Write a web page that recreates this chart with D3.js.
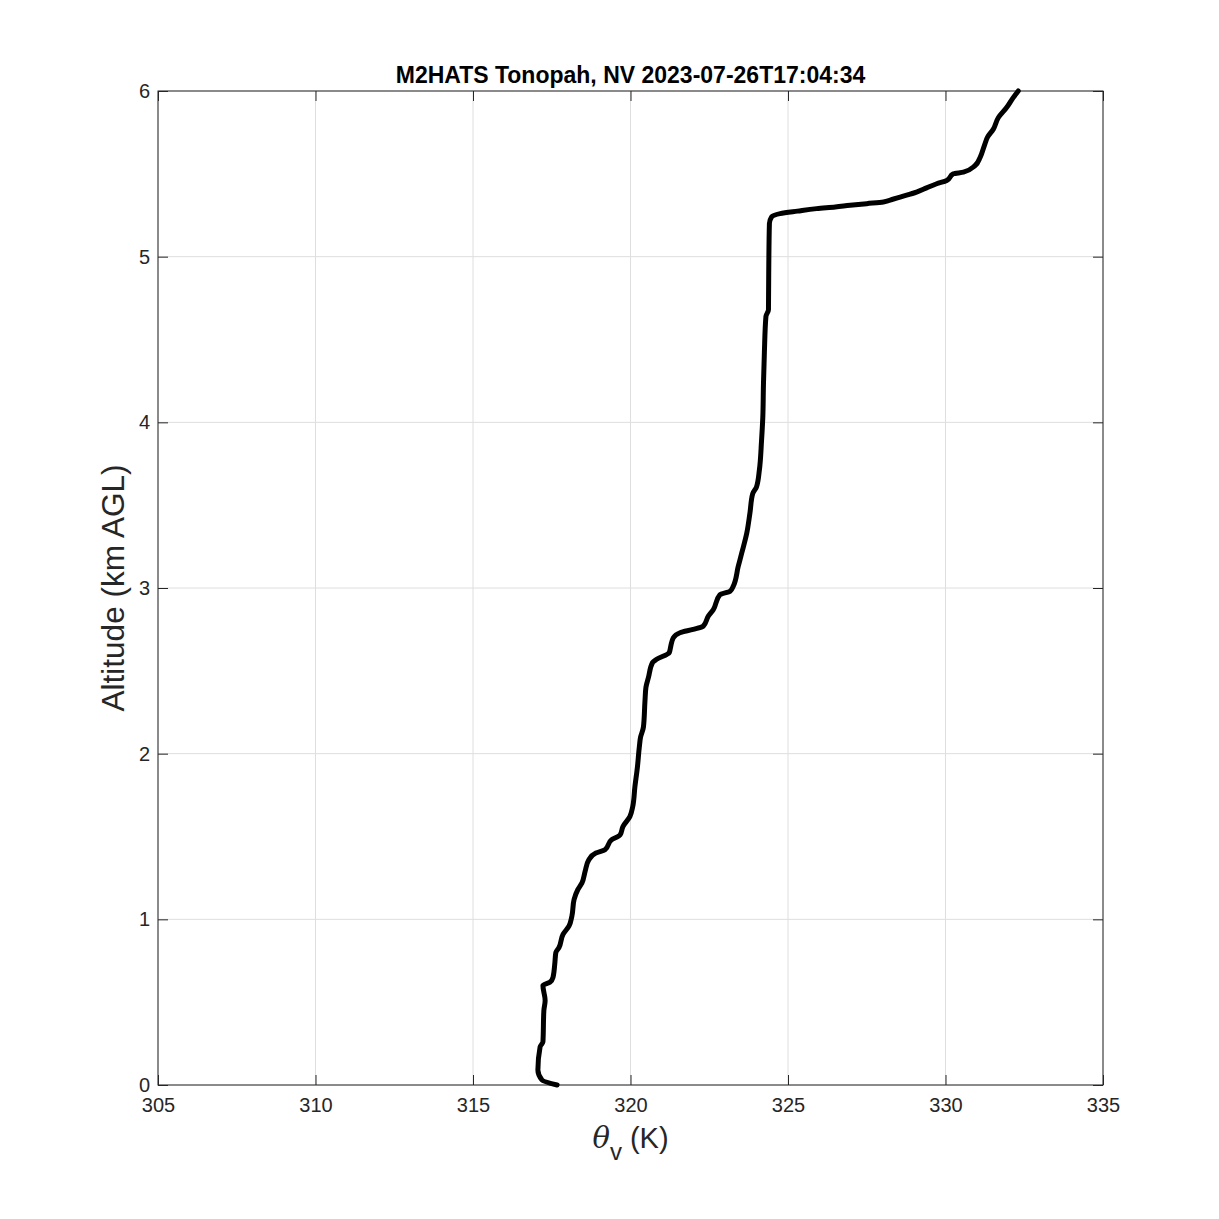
<!DOCTYPE html>
<html>
<head>
<meta charset="utf-8">
<script src="https://cdn.jsdelivr.net/npm/d3@7"></script>
<style>
  body { margin: 0; background: #fff; }
  text { font-family: "Liberation Sans", Arial, Helvetica, sans-serif; }
</style>
</head>
<body>
<div id="chart"></div>
<script>
const thetaV = [317.67, 317.19, 317.06, 317.13, 317.22, 317.25, 317.29, 317.22, 317.44, 317.54,
  317.6, 317.63, 317.73, 317.86, 318.05, 318.14, 318.21, 318.33, 318.46, 318.56,
  318.68, 318.9, 319.19, 319.4, 319.67, 319.76, 319.98, 320.07, 320.14, 320.22,
  320.28, 320.32, 320.41, 320.46, 320.49, 320.57, 320.7, 320.83, 321.23, 321.28,
  321.36, 321.57, 321.99, 322.31, 322.47, 322.63, 322.84, 323.16, 323.26, 323.42,
  323.53, 323.69, 323.79, 323.88, 324.0, 324.09, 324.16, 324.2, 324.22, 324.25,
  324.3, 324.38, 324.39, 324.41, 324.48, 324.75, 325.3, 325.91, 326.5, 326.97,
  327.5, 328.03, 328.3, 328.56, 329.08, 329.4, 329.72, 330.04, 330.25, 330.57,
  330.94, 331.1, 331.25, 331.33, 331.52, 331.68, 331.94, 332.15, 332.31];
const altKm = [0.0, 0.03, 0.09, 0.23, 0.26, 0.45, 0.51, 0.6, 0.62, 0.65,
  0.74, 0.8, 0.83, 0.91, 0.96, 1.02, 1.12, 1.18, 1.22, 1.29,
  1.36, 1.4, 1.42, 1.48, 1.51, 1.56, 1.62, 1.68, 1.8, 1.92,
  2.04, 2.1, 2.16, 2.32, 2.4, 2.46, 2.55, 2.57, 2.61, 2.65,
  2.7, 2.73, 2.75, 2.77, 2.83, 2.87, 2.96, 2.98, 3.01, 3.13,
  3.21, 3.33, 3.45, 3.57, 3.61, 3.71, 3.89, 4.03, 4.22, 4.42,
  4.64, 4.68, 4.94, 5.2, 5.24, 5.26, 5.275, 5.29, 5.30, 5.31,
  5.32, 5.33, 5.345, 5.36, 5.39, 5.415, 5.44, 5.46, 5.5, 5.51,
  5.55, 5.6, 5.68, 5.72, 5.77, 5.84, 5.9, 5.96, 6.0];
const xTicks = [305, 310, 315, 320, 325, 330, 335];
const yTicks = [0, 1, 2, 3, 4, 5, 6];

const W = 1219, H = 1219;
const m = {left: 158, right: 116, top: 91, bottom: 134};
const iw = W - m.left - m.right, ih = H - m.top - m.bottom;

const svg = d3.select("#chart").append("svg")
  .attr("width", W).attr("height", H);

const x = d3.scaleLinear().domain([305, 335]).range([0, iw]);
const y = d3.scaleLinear().domain([0, 6]).range([ih, 0]);

const g = svg.append("g").attr("transform", `translate(${m.left},${m.top})`);

// grid
g.append("g").selectAll("line").data(xTicks).join("line")
  .attr("x1", d => x(d)).attr("x2", d => x(d))
  .attr("y1", 0).attr("y2", ih)
  .attr("stroke", "#dedede").attr("stroke-width", 1);
g.append("g").selectAll("line").data(yTicks).join("line")
  .attr("y1", d => y(d)).attr("y2", d => y(d))
  .attr("x1", 0).attr("x2", iw)
  .attr("stroke", "#dedede").attr("stroke-width", 1);

// axes, MATLAB style: ticks pointing in, box on all sides
const tickLen = 10;
const fmt = d3.format("d");
const styleAxis = (sel) => {
  sel.attr("font-size", null).attr("font-family", null);
  sel.select(".domain").remove();
  sel.selectAll(".tick line").attr("stroke", "#262626");
  sel.selectAll(".tick text").attr("fill", "#262626").style("font-size", "20px");
};
g.append("g").attr("transform", `translate(0,${ih})`)
  .call(d3.axisBottom(x).tickValues(xTicks).tickFormat(fmt).tickSizeInner(-tickLen).tickSizeOuter(0).tickPadding(13))
  .call(styleAxis);
g.append("g")
  .call(d3.axisTop(x).tickValues(xTicks).tickSizeInner(-tickLen).tickSizeOuter(0).tickFormat(""))
  .call(styleAxis);
g.append("g")
  .call(d3.axisLeft(y).tickValues(yTicks).tickFormat(fmt).tickSizeInner(-tickLen).tickSizeOuter(0).tickPadding(8))
  .call(styleAxis);
g.append("g").attr("transform", `translate(${iw},0)`)
  .call(d3.axisRight(y).tickValues(yTicks).tickSizeInner(-tickLen).tickSizeOuter(0).tickFormat(""))
  .call(styleAxis);

g.append("rect").attr("width", iw).attr("height", ih)
  .attr("fill", "none").attr("stroke", "#262626").attr("stroke-width", 1);

// profile
const pts = thetaV.map((t, i) => [t, altKm[i]]);
g.append("path").datum(pts)
  .attr("fill", "none").attr("stroke", "#000").attr("stroke-width", 5)
  .attr("stroke-linejoin", "round").attr("stroke-linecap", "round")
  .attr("d", d3.line().curve(d3.curveMonotoneY).x(d => x(d[0])).y(d => y(d[1])));

// title
svg.append("text").attr("x", m.left + iw / 2).attr("y", 83)
  .attr("text-anchor", "middle").style("font-size", "23px").style("font-weight", "bold")
  .attr("fill", "#000").text("M2HATS Tonopah, NV 2023-07-26T17:04:34");

// x label
const xl = svg.append("text").attr("x", m.left + iw / 2).attr("y", 1148)
  .attr("text-anchor", "middle").style("font-size", "29px").attr("fill", "#262626");
xl.append("tspan").style("font-family", "'DejaVu Serif', serif").style("font-style", "italic").text("θ");
xl.append("tspan").attr("dy", 12).style("font-size", "24px").text("v");
xl.append("tspan").attr("dy", -12).text(" (K)");

// y label
svg.append("text")
  .attr("transform", `translate(124,${m.top + ih / 2}) rotate(-90)`)
  .attr("text-anchor", "middle").style("font-size", "31.5px").attr("fill", "#262626")
  .text("Altitude (km AGL)");
</script>
</body>
</html>
